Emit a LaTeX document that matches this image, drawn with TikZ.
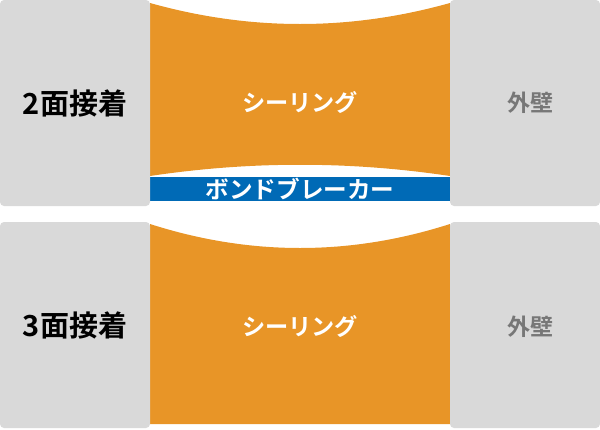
\documentclass[tikz,border=0pt]{standalone}
\usepackage{fontspec}
\setmainfont{Noto Sans CJK JP}[BoldFont={Noto Sans CJK JP Bold}]
\usetikzlibrary{positioning}

\definecolor{wallgray}{HTML}{D9D9D9}
\definecolor{sealorange}{HTML}{E89527}
\definecolor{breakerblue}{HTML}{006AB6}
\definecolor{labelgray}{HTML}{777777}

\tikzset{
  wallbox/.style={fill=wallgray, rounded corners=4pt, minimum width=150pt,
    minimum height=206pt, inner sep=0pt, font=\bfseries\fontsize{29}{33}\selectfont},
  outerwall/.style={fill=wallgray, rounded corners=4pt, minimum width=150pt,
    minimum height=206pt, inner sep=0pt},
  walltext/.style={text=labelgray, font=\bfseries\fontsize{23}{27}\selectfont},
  sealtext/.style={text=white, font=\bfseries\fontsize{23.2}{27}\selectfont},
  breaker/.style={fill=breakerblue, text=white, minimum width=300pt,
    minimum height=24pt, inner sep=0pt, font=\bfseries\fontsize{23.6}{27}\selectfont}
}

\begin{document}
\begin{tikzpicture}[x=1pt,y=-1pt]
\useasboundingbox (0,0) rectangle (600,429);
% Upper case: sealant with bond breaker
\fill[sealorange] (150,3) .. controls (250,31) and (350,31) .. (450,3)
  -- (450,176) .. controls (350,161) and (250,161) .. (150,176) -- cycle;
\node[breaker] (bond) at (300,189) {ボンドブレーカー};
\node[wallbox] (twoface) at (75,103) {2面接着};
\node[outerwall] (wallA) at (525,103) {};
\node[walltext] (wallAtext) at (530,103) {外壁};
\node[sealtext] (sealA) at (300,103) {シーリング};
% Lower case: sealant bonded on three faces
\fill[sealorange] (150,224) .. controls (250,256) and (350,256) .. (450,224)
  -- (450,424) -- (150,424) -- cycle;
\node[wallbox] (threeface) at (75,325) {3面接着};
\node[outerwall] (wallB) at (525,325) {};
\node[walltext] (wallBtext) at (530,327) {外壁};
\node[sealtext] (sealB) at (300,327) {シーリング};
\end{tikzpicture}
\end{document}
